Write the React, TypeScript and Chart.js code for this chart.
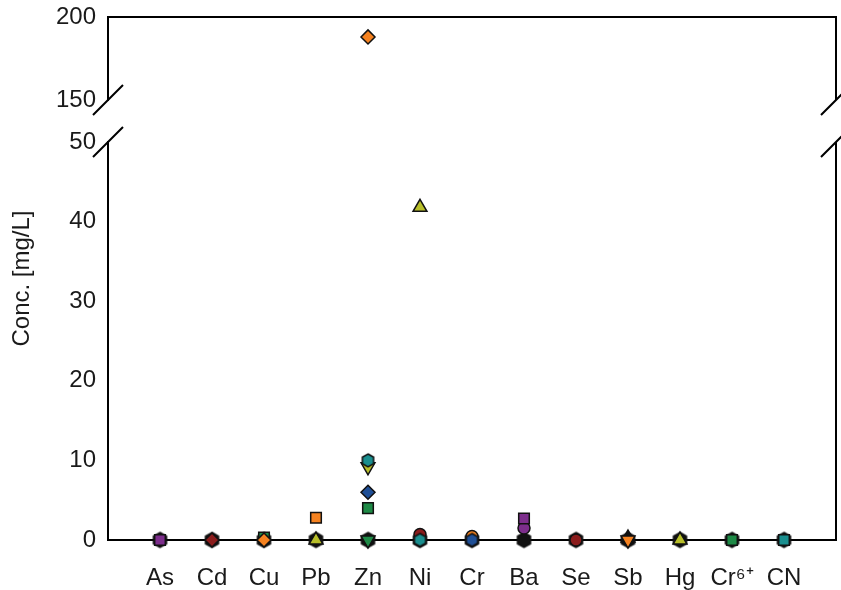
import React, { useEffect, useRef } from 'react';
import { Chart, registerables } from 'chart.js';

Chart.register(...registerables);

// ---------- data ----------
const CATEGORIES = ['As', 'Cd', 'Cu', 'Pb', 'Zn', 'Ni', 'Cr', 'Ba', 'Se', 'Sb', 'Hg', 'Cr⁶⁺', 'CN'];
const LOWER_RANGE = [0, 50];
const LOWER_STEP = 10;
const UPPER_RANGE = [150, 200];
const UPPER_STEP = 50;
const Y_TITLE = 'Conc. [mg/L]';

//                        As    Cd    Cu    Pb    Zn    Ni    Cr    Ba    Se    Sb    Hg    Cr6+  CN
const purpleSquare     = [0,    null, null, null, null, null, null, 2.7,  null, null, null, null, null];
const redDiamond       = [null, 0,    null, null, null, null, null, null, null, null, null, null, null];
const orangeDiamond    = [null, null, 0,    null, 188,  null, null, null, null, null, null, null, null];
const tealHexagon      = [null, null, null, null, 10,   0,    null, null, null, null, null, null, null];
const yellowInvTri     = [null, null, null, null, 9.2,  null, null, null, null, null, null, null, null];
const blueDiamond      = [null, null, null, null, 6,    null, null, null, null, null, null, null, null];
const greenSquare      = [null, null, 0.3,  null, 4,    null, null, null, null, null, null, 0,    null];
const orangeSquare     = [null, null, null, 2.8,  null, null, null, null, null, null, null, null, null];
const limeTriangle     = [null, null, null, 0,    null, 41.8, null, null, null, null, 0,    null, null];
const greenInvTri      = [null, null, null, null, 0,    null, null, null, null, null, null, null, null];
const redCircle        = [null, null, null, null, null, 0.7,  null, null, 0,    null, null, null, null];
const blueHexagon      = [null, null, null, null, null, null, 0,    null, null, null, null, null, null];
const orangeCircle     = [null, null, null, null, null, null, 0.45, null, null, null, null, null, null];
const purpleCircle     = [null, null, null, null, null, null, null, 1.5,  null, null, null, null, null];
const orangeInvTri     = [null, null, null, null, null, null, null, null, null, 0,    null, null, null];
const tealSquare       = [null, null, null, null, null, null, null, null, null, null, null, null, 0];
const blackTriangle    = [null, null, null, null, null, null, null, null, null, 0.25, null, null, null];
const blackHexagon     = [0,    0,    0,    0,    0,    0,    0,    0,    0,    0,    0,    0,    0];

const PURPLE = '#7D2E8C';
const DARKRED = '#8B1C1C';
const ORANGE = '#F58220';
const GREEN = '#1E8A46';
const LIME = '#B8BF2A';
const TEAL = '#1A8F8F';
const BLUE = '#1F4F96';
const BLACK = '#111111';

// drawn top-first (Chart.js paints dataset 0 last)
const SERIES = [
  { values: purpleSquare, color: PURPLE, shape: 'square' },
  { values: redDiamond, color: DARKRED, shape: 'diamond' },
  { values: orangeDiamond, color: ORANGE, shape: 'diamond' },
  { values: tealHexagon, color: TEAL, shape: 'hexagon' },
  { values: yellowInvTri, color: LIME, shape: 'invTriangle' },
  { values: blueDiamond, color: BLUE, shape: 'diamond' },
  { values: greenSquare, color: GREEN, shape: 'square' },
  { values: orangeSquare, color: ORANGE, shape: 'square' },
  { values: limeTriangle, color: LIME, shape: 'triangle' },
  { values: greenInvTri, color: GREEN, shape: 'invTriangle' },
  { values: redCircle, color: DARKRED, shape: 'circle' },
  { values: blueHexagon, color: BLUE, shape: 'hexagon' },
  { values: orangeCircle, color: ORANGE, shape: 'circle' },
  { values: purpleCircle, color: PURPLE, shape: 'circle' },
  { values: orangeInvTri, color: ORANGE, shape: 'invTriangle' },
  { values: tealSquare, color: TEAL, shape: 'square' },
  { values: blackTriangle, color: BLACK, shape: 'triangle' },
  { values: blackHexagon, color: BLACK, shape: 'bigHexagon' },
];

// ---------- styling helpers ----------
const FONT = '"Liberation Sans", Arial, sans-serif';

function makeHexagon(fill: string, r: number) {
  const size = Math.ceil(r * 2 + 4);
  const c = document.createElement('canvas');
  c.width = size;
  c.height = size;
  const ctx = c.getContext('2d')!;
  const cx = size / 2;
  const cy = size / 2;
  ctx.beginPath();
  for (let i = 0; i < 6; i++) {
    const a = -Math.PI / 2 + (i * Math.PI) / 3;
    const px = cx + r * Math.cos(a);
    const py = cy + r * Math.sin(a);
    if (i === 0) ctx.moveTo(px, py);
    else ctx.lineTo(px, py);
  }
  ctx.closePath();
  ctx.fillStyle = fill;
  ctx.fill();
  ctx.lineWidth = 1.5;
  ctx.strokeStyle = BLACK;
  ctx.stroke();
  return c;
}

function markerProps(shape: string, color: string) {
  switch (shape) {
    case 'square':
      return { pointStyle: 'rect', pointRadius: 7.5, pointRotation: 0 };
    case 'diamond':
      return { pointStyle: 'rectRot', pointRadius: 7, pointRotation: 0 };
    case 'triangle':
      return { pointStyle: 'triangle', pointRadius: 8, pointRotation: 0 };
    case 'invTriangle':
      return { pointStyle: 'triangle', pointRadius: 8, pointRotation: 180 };
    case 'hexagon':
      return { pointStyle: makeHexagon(color, 6.5), pointRadius: 7, pointRotation: 0 };
    case 'bigHexagon':
      return { pointStyle: makeHexagon(color, 7.5), pointRadius: 7.5, pointRotation: 0 };
    default:
      return { pointStyle: 'circle', pointRadius: 6, pointRotation: 0 };
  }
}

const framePlugin = {
  id: 'frame',
  afterDraw(chart: any) {
    const { ctx, chartArea } = chart;
    const { left, right, top, bottom } = chartArea;
    const yTop = chart.scales.yTop;
    const yBot = chart.scales.yBot;
    const breakA = yTop.bottom;
    const breakB = yBot.top;
    ctx.save();
    ctx.strokeStyle = '#000';
    ctx.lineWidth = 2;
    ctx.lineCap = 'butt';
    ctx.beginPath();
    ctx.moveTo(left - 1, top);
    ctx.lineTo(right, top);
    ctx.moveTo(right, top - 1);
    ctx.lineTo(right, breakA);
    ctx.moveTo(right, breakB);
    ctx.lineTo(right, bottom);
    ctx.stroke();
    // break marks
    ctx.beginPath();
    for (const x of [left, right]) {
      for (const y of [breakA, breakB]) {
        ctx.moveTo(x - 15, y + 15);
        ctx.lineTo(x + 15, y - 15);
      }
    }
    ctx.stroke();
    // y title
    ctx.translate(22, (top + bottom) / 2);
    ctx.rotate(-Math.PI / 2);
    ctx.fillStyle = '#1a1a1a';
    ctx.font = `24px ${FONT}`;
    ctx.textAlign = 'center';
    ctx.textBaseline = 'middle';
    ctx.fillText(Y_TITLE, 0, 0);
    ctx.restore();
  },
};

export default function App() {
  const ref = useRef<HTMLCanvasElement>(null);

  useEffect(() => {
    if (!ref.current) return;
    const datasets: any[] = [];
    SERIES.forEach((s) => {
      const m = markerProps(s.shape, s.color);
      const base = {
        backgroundColor: s.color,
        borderColor: BLACK,
        pointBackgroundColor: s.color,
        pointBorderColor: BLACK,
        pointBorderWidth: 1.5,
        pointHoverRadius: m.pointRadius,
        showLine: false,
        clip: false,
        ...m,
      };
      const lower = s.values
        .map((v, i) => (v !== null && v <= LOWER_RANGE[1] ? { x: i + 1, y: v } : null))
        .filter(Boolean);
      const upper = s.values
        .map((v, i) => (v !== null && v >= UPPER_RANGE[0] ? { x: i + 1, y: v } : null))
        .filter(Boolean);
      if (lower.length) datasets.push({ ...base, data: lower, yAxisID: 'yBot' });
      if (upper.length) datasets.push({ ...base, data: upper, yAxisID: 'yTop' });
    });

    const tickFont = { family: FONT, size: 24 };
    const noPad = (s: any) => {
      s.paddingTop = 0;
      s.paddingBottom = 0;
      s.paddingLeft = 0;
      s.paddingRight = 0;
    };
    const axisWidth = (s: any) => {
      s.width = 108;
      noPad(s);
    };

    const chart = new Chart(ref.current, {
      type: 'scatter',
      data: { datasets },
      plugins: [framePlugin],
      options: {
        animation: false,
        responsive: true,
        maintainAspectRatio: false,
        events: [],
        layout: { autoPadding: false, padding: { top: 17, right: 5, left: 0, bottom: 0 } },
        plugins: { legend: { display: false }, tooltip: { enabled: false }, title: { display: false } },
        scales: {
          x: {
            type: 'linear',
            min: 0,
            max: CATEGORIES.length + 1,
            afterBuildTicks: (s: any) => {
              s.ticks = CATEGORIES.map((_, i) => ({ value: i + 1 }));
            },
            afterFit: (s: any) => {
              s.height = 50;
              noPad(s);
            },
            ticks: {
              autoSkip: false,
              maxRotation: 0,
              padding: 24,
              color: '#1a1a1a',
              font: tickFont,
              callback: (v: any) => CATEGORIES[Math.round(v) - 1] ?? '',
            },
            grid: { display: false, drawTicks: false },
            border: { display: true, color: '#000', width: 2 },
          },
          yBot: {
            type: 'linear',
            position: 'left',
            stack: 'y',
            stackWeight: 398,
            min: LOWER_RANGE[0],
            max: LOWER_RANGE[1],
            afterFit: axisWidth,
            ticks: { stepSize: LOWER_STEP, padding: 12, color: '#1a1a1a', font: tickFont },
            grid: { display: false, drawTicks: false },
            border: { display: true, color: '#000', width: 2 },
          },
          yGap: {
            type: 'linear',
            position: 'left',
            stack: 'y',
            stackWeight: 42,
            afterFit: axisWidth,
            ticks: { display: false },
            grid: { display: false, drawTicks: false },
            border: { display: false },
          },
          yTop: {
            type: 'linear',
            position: 'left',
            stack: 'y',
            stackWeight: 83,
            min: UPPER_RANGE[0],
            max: UPPER_RANGE[1],
            afterFit: axisWidth,
            ticks: { stepSize: UPPER_STEP, padding: 12, color: '#1a1a1a', font: tickFont },
            grid: { display: false, drawTicks: false },
            border: { display: true, color: '#000', width: 2 },
          },
        },
      } as any,
    });
    return () => chart.destroy();
  }, []);

  return (
    <div style={{ position: 'fixed', left: 0, top: 0, width: 841, height: 590, background: '#fff' }}>
      <canvas ref={ref} />
    </div>
  );
}
